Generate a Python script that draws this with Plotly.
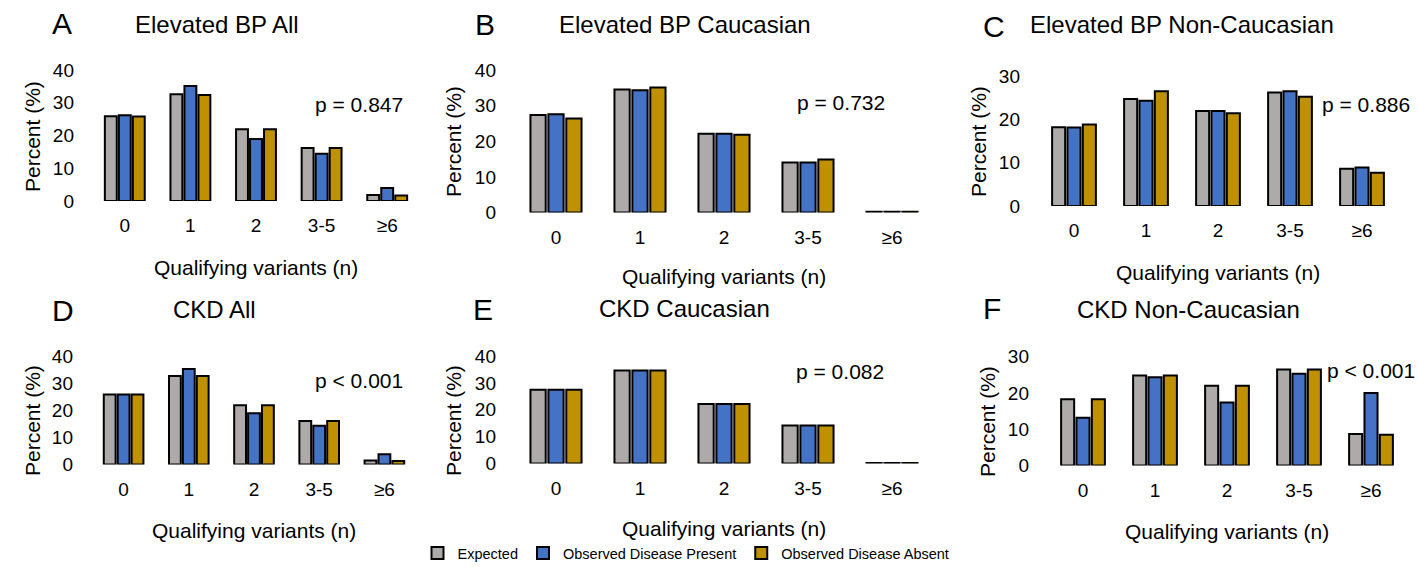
import plotly.graph_objects as go

W, H = 1418, 567

categories = ["0", "1", "2", "3-5", "≥6"]
series_names = ["Expected", "Observed Disease Present", "Observed Disease Absent"]

# Panel A: Elevated BP All
A_expected = [25.9, 32.6, 21.9, 16.2, 1.8]
A_present = [26.2, 35.1, 18.9, 14.4, 4.0]
A_absent = [25.8, 32.4, 21.9, 16.2, 1.7]
# Panel B: Elevated BP Caucasian
B_expected = [27.4, 34.5, 22.1, 14.0, 0.2]
B_present = [27.6, 34.3, 22.1, 14.0, 0.2]
B_absent = [26.4, 35.1, 21.8, 14.9, 0.2]
# Panel C: Elevated BP Non-Caucasian
C_expected = [18.2, 24.7, 21.9, 26.2, 8.6]
C_present = [18.1, 24.3, 21.9, 26.5, 8.9]
C_absent = [18.8, 26.5, 21.4, 25.2, 7.7]
# Panel D: CKD All
D_expected = [26.0, 32.8, 22.0, 16.1, 1.5]
D_present = [26.0, 35.4, 19.0, 14.4, 3.8]
D_absent = [26.0, 32.8, 22.0, 16.1, 1.3]
# Panel E: CKD Caucasian
E_expected = [27.4, 34.6, 22.1, 14.1, 0.2]
E_present = [27.4, 34.6, 22.1, 14.1, 0.2]
E_absent = [27.4, 34.6, 22.1, 14.1, 0.2]
# Panel F: CKD Non-Caucasian
F_expected = [18.3, 24.8, 22.0, 26.5, 8.7]
F_present = [13.2, 24.3, 17.4, 25.3, 20.0]
F_absent = [18.3, 24.8, 22.0, 26.5, 8.5]

letters = ["A", "B", "C", "D", "E", "F"]
titles = ["Elevated BP All", "Elevated BP Caucasian", "Elevated BP Non-Caucasian",
          "CKD All", "CKD Caucasian", "CKD Non-Caucasian"]
p_values = ["p = 0.847", "p = 0.732", "p = 0.886", "p < 0.001", "p = 0.082", "p < 0.001"]
y_max = [40, 40, 30, 40, 40, 30]
y_dtick = 10

panel_data = [
    (A_expected, A_present, A_absent),
    (B_expected, B_present, B_absent),
    (C_expected, C_present, C_absent),
    (D_expected, D_present, D_absent),
    (E_expected, E_present, E_absent),
    (F_expected, F_present, F_absent),
]

colors = ["#AEAAAA", "#4472C4", "#BF9000"]
FONT = "Liberation Sans, Arial, sans-serif"

# layout geometry in pixels: (x_left, x_right, y_zero, y_top)
geom = [
    (92, 420, 201, 70),
    (514, 934, 212.5, 70),
    (1038, 1398, 206, 76),
    (91, 417, 464.5, 356.7),
    (514, 934, 463.5, 356),
    (1047, 1407, 465.5, 356.7),
]
letter_pos = [(62, 23), (485, 25), (994, 26), (63, 310), (483, 309), (992, 308)]
title_pos = [(217, 25), (685, 25), (1182, 25), (215, 309), (684, 308), (1188, 309)]
p_pos = [(359, 105), (841, 102), (1366, 104), (359, 380), (840, 371), (1371, 370)]
ytitle_pos = [(33, 137), (453, 142), (978, 142), (32, 421), (453, 421), (987, 422)]
xtitle_pos = [(256, 267), (724, 277), (1218, 272), (254, 530), (724, 528), (1227, 531)]


def px(x):
    return x / W


def py(y):
    return 1 - y / H


def note(text, pos, size, angle=0):
    return dict(text=text, x=px(pos[0]), y=py(pos[1]), xref="paper", yref="paper",
                xanchor="center", yanchor="middle", showarrow=False, textangle=angle,
                font=dict(size=size, family=FONT, color="black"))


fig = go.Figure()
layout = {}
annotations = []

for i in range(6):
    ax = "" if i == 0 else str(i + 1)
    for s in range(3):
        fig.add_trace(go.Bar(
            x=categories, y=panel_data[i][s], name=series_names[s],
            marker=dict(color=colors[s], line=dict(color="black", width=2)),
            xaxis="x" + ax, yaxis="y" + ax,
            showlegend=(i == 0), legendgroup=series_names[s],
        ))
    xl, xr, yz, yt = geom[i]
    layout["xaxis" + ax] = dict(
        domain=[px(xl), px(xr)], anchor="y" + ax, showgrid=False, showline=False,
        zeroline=False, ticks="", ticklabelstandoff=11, automargin=False,
        tickfont=dict(size=19, family=FONT, color="black"),
    )
    layout["yaxis" + ax] = dict(
        domain=[py(yz), py(yt)], anchor="x" + ax, range=[0, y_max[i]], dtick=y_dtick,
        showgrid=False, showline=False, zeroline=False, ticks="", ticklabelstandoff=17,
        automargin=False, tickfont=dict(size=19, family=FONT, color="black"),
    )
    annotations.append(note(letters[i], letter_pos[i], 30))
    annotations.append(note(titles[i], title_pos[i], 24))
    annotations.append(note(p_values[i], p_pos[i], 21))
    annotations.append(note("Percent (%)", ytitle_pos[i], 21, angle=-90))
    annotations.append(note("Qualifying variants (n)", xtitle_pos[i], 21))

fig.update_layout(
    width=W, height=H, margin=dict(l=0, r=0, t=0, b=0, autoexpand=False),
    paper_bgcolor="white", plot_bgcolor="white",
    barmode="group", bargap=0.36, bargroupgap=0.15,
    annotations=annotations,
    legend=dict(orientation="h", x=px(686), xanchor="center", y=py(553), yanchor="middle",
                font=dict(size=14.5, family=FONT, color="black"), itemwidth=30,
                tracegroupgap=0, bgcolor="rgba(0,0,0,0)"),
    font=dict(family=FONT, color="black"),
    **layout,
)

fig.write_html(
    "out.html",
    config={"displayModeBar": False},
    post_script="document.body.style.margin='0px';document.body.style.overflow='hidden';",
)
